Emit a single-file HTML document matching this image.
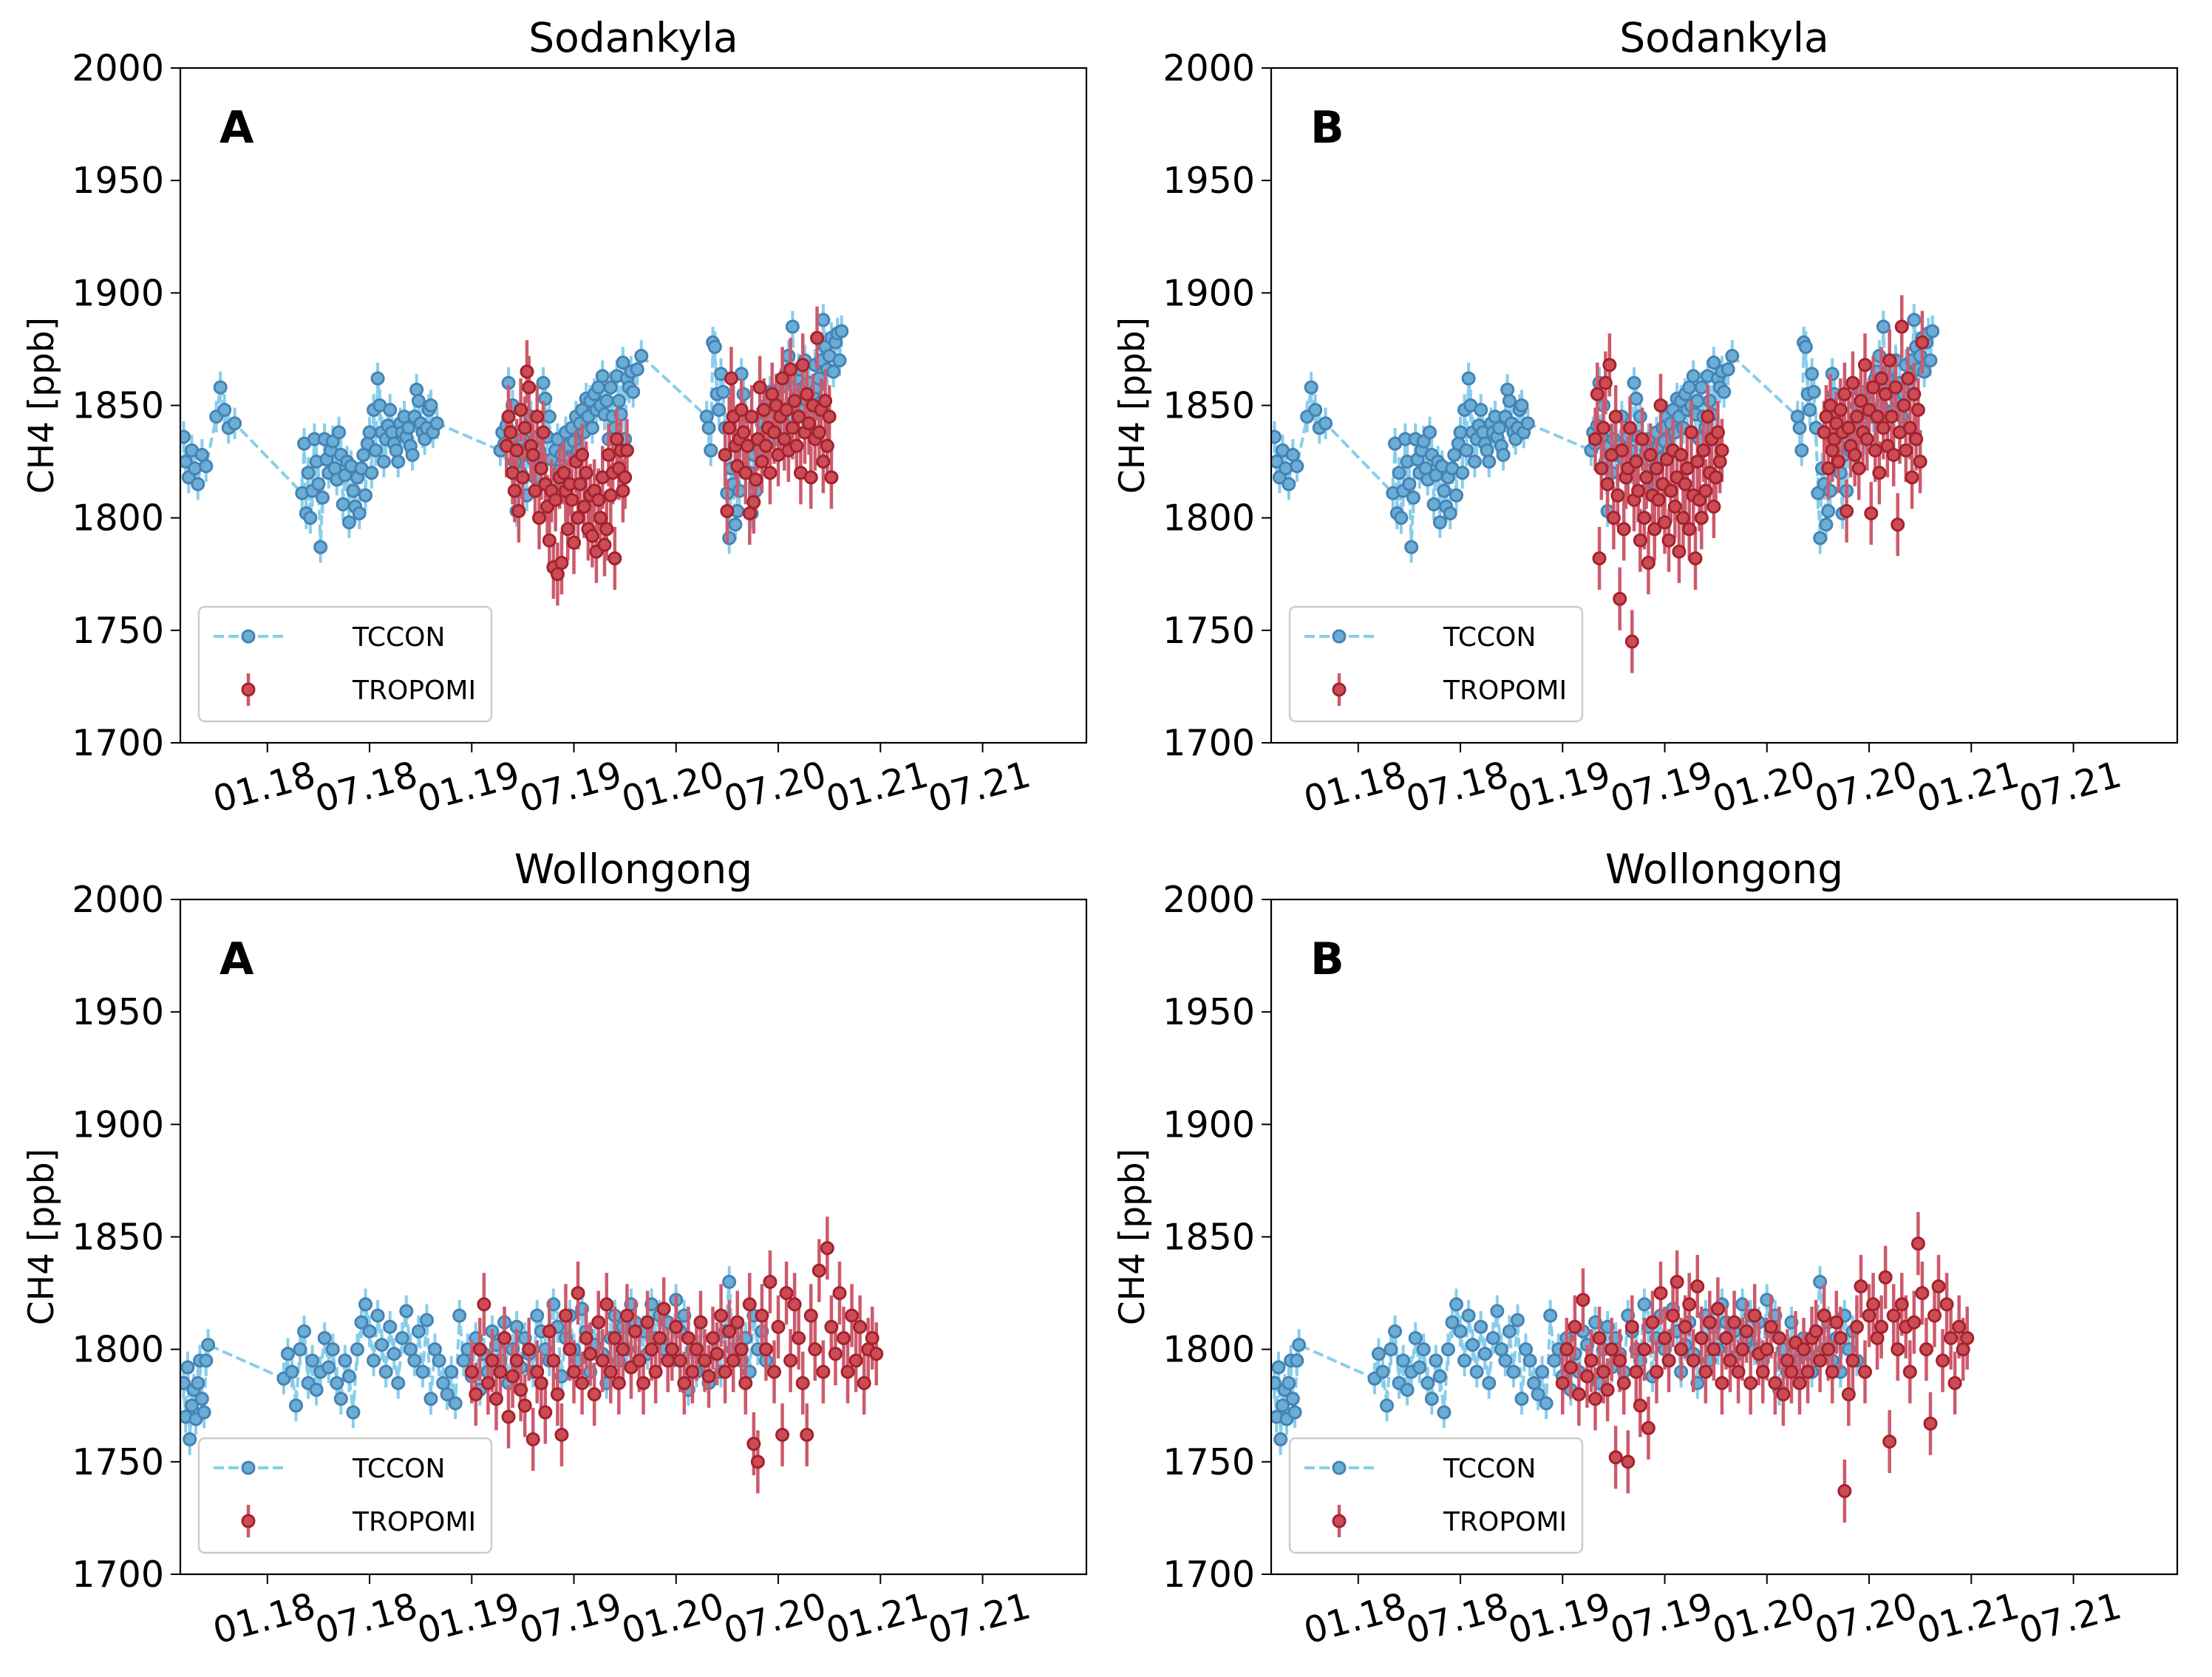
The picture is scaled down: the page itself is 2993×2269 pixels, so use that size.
<!DOCTYPE html>
<html><head><meta charset="utf-8">
<style>
html,body{margin:0;padding:0;background:#fff;}
svg{display:block;font-family:"DejaVu Sans","Liberation Sans",sans-serif;}
</style></head>
<body>
<svg id="fig" width="2993" height="2269" viewBox="0 0 2993 2269" xmlns="http://www.w3.org/2000/svg"></svg>
<script>
// ---------- data ----------
const yTicks = [1700,1750,1800,1850,1900,1950,2000];
const xTickYears = [2018.0,2018.5,2019.0,2019.5,2020.0,2020.5,2021.0,2021.5];
const xTickLabels = ["01.18","07.18","01.19","07.19","01.20","07.20","01.21","07.21"];

const sodTcconT = [2017.59,2017.60,2017.615,2017.63,2017.645,2017.66,2017.68,2017.70,
2017.75,2017.77,2017.79,2017.81,2017.84,
2018.17,2018.18,2018.19,2018.20,2018.21,2018.22,2018.23,2018.24,2018.25,2018.26,
2018.27,2018.28,2018.29,2018.30,2018.31,2018.32,2018.33,2018.34,2018.35,2018.36,
2018.37,2018.38,2018.39,2018.40,2018.41,2018.42,2018.43,2018.44,2018.45,2018.46,
2018.47,2018.48,2018.49,2018.50,2018.51,2018.52,2018.53,2018.54,2018.55,2018.56,
2018.57,2018.58,2018.59,2018.60,2018.61,2018.62,2018.63,2018.64,2018.65,2018.66,
2018.67,2018.68,2018.69,2018.70,2018.71,2018.72,2018.73,2018.74,2018.75,2018.76,
2018.77,2018.78,2018.79,2018.80,2018.81,2018.83,
2019.14,2019.15,2019.16,2019.17,2019.18,2019.19,2019.20,2019.21,2019.22,2019.23,
2019.24,2019.25,2019.26,2019.27,2019.28,2019.29,2019.30,2019.31,2019.32,2019.33,
2019.34,2019.35,2019.36,2019.37,2019.38,2019.39,2019.40,2019.41,2019.42,2019.43,
2019.44,2019.45,2019.46,2019.47,2019.48,2019.49,2019.50,2019.51,2019.52,2019.53,
2019.54,2019.55,2019.56,2019.57,2019.58,2019.59,2019.60,2019.61,2019.62,2019.63,
2019.64,2019.65,2019.66,2019.67,2019.68,2019.69,2019.70,2019.71,2019.72,2019.73,
2019.74,2019.75,2019.76,2019.77,2019.78,2019.79,2019.81,2019.83,
2020.15,2020.16,2020.17,2020.18,2020.19,2020.20,2020.21,2020.22,2020.23,2020.24,
2020.25,2020.26,2020.27,2020.28,2020.29,2020.30,2020.31,2020.32,2020.33,2020.34,
2020.35,2020.36,2020.37,2020.38,2020.39,2020.40,2020.41,2020.42,2020.43,2020.44,
2020.45,2020.46,2020.47,2020.48,2020.49,2020.50,2020.51,2020.52,2020.53,2020.54,
2020.55,2020.56,2020.57,2020.58,2020.59,2020.60,2020.61,2020.62,2020.63,2020.64,
2020.65,2020.66,2020.67,2020.68,2020.69,2020.70,2020.71,2020.72,2020.73,2020.74,
2020.75,2020.76,2020.77,2020.78,2020.79,2020.80,2020.81];
const sodTcconV = [1836,1825,1818,1830,1822,1815,1828,1823,
1845,1858,1848,1840,1842,
1811,1833,1802,1820,1800,1812,1835,1825,1815,1787,
1809,1835,1826,1820,1830,1834,1822,1817,1838,1828,
1806,1819,1825,1798,1823,1812,1805,1818,1802,1822,
1828,1810,1833,1838,1820,1848,1830,1862,1850,1838,
1825,1835,1841,1848,1838,1833,1830,1825,1842,1838,
1845,1836,1840,1832,1828,1845,1857,1852,1842,1838,
1835,1840,1848,1850,1838,1842,
1830,1838,1833,1841,1860,1836,1850,1825,1803,1832,
1820,1835,1828,1810,1832,1845,1826,1818,1836,1830,
1822,1860,1853,1836,1845,1826,1812,1830,1835,1821,
1828,1815,1838,1832,1826,1840,1834,1845,1830,1842,
1848,1838,1853,1845,1852,1840,1855,1848,1858,1850,
1863,1846,1852,1835,1858,1845,1840,1863,1852,1846,
1869,1835,1862,1858,1865,1856,1866,1872,
1845,1840,1830,1878,1876,1855,1848,1864,1856,1840,
1811,1791,1822,1815,1797,1803,1812,1864,1855,1845,
1832,1820,1802,1828,1812,1835,1830,1842,1838,1850,
1845,1856,1840,1835,1852,1848,1858,1845,1862,1865,
1872,1850,1885,1858,1862,1866,1855,1848,1870,1852,
1860,1845,1855,1868,1858,1862,1870,1888,1876,1866,
1872,1880,1865,1878,1882,1870,1883];

const sodTropoAT = [2019.17,2019.18,2019.19,2019.20,2019.21,2019.22,2019.23,2019.24,2019.25,2019.26,
2019.27,2019.28,2019.29,2019.30,2019.31,2019.32,2019.33,2019.34,2019.35,2019.36,
2019.37,2019.38,2019.39,2019.40,2019.41,2019.42,2019.43,2019.44,2019.45,2019.46,
2019.47,2019.48,2019.49,2019.50,2019.51,2019.52,2019.53,2019.54,2019.55,2019.56,
2019.57,2019.58,2019.59,2019.60,2019.61,2019.62,2019.63,2019.64,2019.65,2019.66,
2019.67,2019.68,2019.69,2019.70,2019.71,2019.72,2019.73,2019.74,2019.75,2019.76,
2020.24,2020.25,2020.26,2020.27,2020.28,2020.29,2020.30,2020.31,2020.32,2020.33,
2020.34,2020.35,2020.36,2020.37,2020.38,2020.39,2020.40,2020.41,2020.42,2020.43,
2020.44,2020.45,2020.46,2020.47,2020.48,2020.49,2020.50,2020.51,2020.52,2020.53,
2020.54,2020.55,2020.56,2020.57,2020.58,2020.59,2020.60,2020.61,2020.62,2020.63,
2020.64,2020.65,2020.66,2020.67,2020.68,2020.69,2020.70,2020.71,2020.72,2020.73,
2020.74,2020.75,2020.76];
const sodTropoAV = [1832,1845,1838,1820,1812,1830,1803,1848,1818,1840,
1865,1858,1832,1828,1812,1845,1800,1822,1838,1815,
1805,1790,1812,1778,1808,1775,1818,1780,1820,1812,
1795,1815,1808,1789,1825,1800,1815,1828,1805,1820,
1795,1810,1792,1812,1785,1808,1800,1818,1788,1795,
1828,1810,1820,1782,1835,1822,1830,1812,1818,1830,
1828,1803,1840,1862,1845,1832,1823,1835,1848,1838,
1820,1832,1802,1845,1807,1817,1835,1858,1825,1848,
1832,1840,1820,1855,1838,1850,1828,1845,1862,1835,
1848,1830,1866,1840,1852,1832,1845,1820,1868,1838,
1855,1842,1818,1850,1835,1880,1838,1848,1825,1852,
1832,1845,1818];

const sodTropoBT = [2019.16,2019.17,2019.18,2019.19,2019.20,2019.21,2019.22,2019.23,2019.24,2019.25,
2019.26,2019.27,2019.28,2019.29,2019.30,2019.31,2019.32,2019.33,2019.34,2019.35,
2019.36,2019.37,2019.38,2019.39,2019.40,2019.41,2019.42,2019.43,2019.44,2019.45,
2019.46,2019.47,2019.48,2019.49,2019.50,2019.51,2019.52,2019.53,2019.54,2019.55,
2019.56,2019.57,2019.58,2019.59,2019.60,2019.61,2019.62,2019.63,2019.64,2019.65,
2019.66,2019.67,2019.68,2019.69,2019.70,2019.71,2019.72,2019.73,2019.74,2019.75,
2019.76,2019.77,2019.78,
2020.28,2020.29,2020.30,2020.31,2020.32,2020.33,2020.34,2020.35,2020.36,2020.37,
2020.38,2020.39,2020.40,2020.41,2020.42,2020.43,2020.44,2020.45,2020.46,2020.47,
2020.48,2020.49,2020.50,2020.51,2020.52,2020.53,2020.54,2020.55,2020.56,2020.57,
2020.58,2020.59,2020.60,2020.61,2020.62,2020.63,2020.64,2020.65,2020.66,2020.67,
2020.68,2020.69,2020.70,2020.71,2020.72,2020.73,2020.74,2020.75,2020.76];
const sodTropoBV = [1835,1855,1782,1822,1840,1860,1815,1868,1828,1800,
1845,1810,1764,1830,1795,1818,1822,1840,1745,1808,
1825,1812,1790,1835,1800,1818,1780,1828,1810,1795,
1822,1808,1850,1815,1798,1826,1790,1812,1830,1805,
1818,1785,1828,1800,1815,1822,1795,1838,1810,1782,
1825,1808,1800,1830,1812,1845,1820,1835,1805,1818,
1838,1825,1830,
1838,1845,1822,1850,1830,1835,1842,1825,1848,1838,
1855,1803,1840,1832,1860,1828,1845,1822,1852,1838,
1868,1835,1848,1802,1858,1830,1845,1820,1862,1840,
1855,1832,1870,1845,1828,1858,1797,1838,1885,1850,
1830,1862,1840,1818,1855,1835,1848,1825,1878];

const wolTcconT = [2017.59,2017.60,2017.61,2017.62,2017.63,2017.64,2017.65,2017.66,2017.67,2017.68,2017.69,2017.70,2017.71,
2018.08,2018.10,2018.12,2018.14,2018.16,2018.18,2018.20,2018.22,2018.24,2018.26,
2018.28,2018.30,2018.32,2018.34,2018.36,2018.38,2018.40,2018.42,2018.44,2018.46,
2018.48,2018.50,2018.52,2018.54,2018.56,2018.58,2018.60,2018.62,2018.64,2018.66,
2018.68,2018.70,2018.72,2018.74,2018.76,2018.78,2018.80,2018.82,2018.84,2018.86,
2018.88,2018.90,2018.92,2018.94,2018.96,2018.98,2019.00,2019.02,2019.04,2019.06,
2019.08,2019.10,2019.12,2019.14,2019.16,2019.18,2019.20,2019.22,2019.24,2019.26,
2019.28,2019.30,2019.32,2019.34,2019.36,2019.38,2019.40,2019.42,2019.44,2019.46,
2019.48,2019.50,2019.52,2019.54,2019.56,2019.58,2019.60,2019.62,2019.64,2019.66,
2019.68,2019.70,2019.72,2019.74,2019.76,2019.78,2019.80,2019.82,2019.84,2019.86,
2019.88,2019.90,2019.92,2019.94,2019.96,2019.98,2020.00,2020.02,2020.04,2020.06,
2020.08,2020.10,2020.12,2020.14,2020.16,2020.18,2020.20,2020.22,2020.24,2020.26,
2020.28,2020.30,2020.32,2020.34,2020.36,2020.38,2020.40,2020.42,2020.44];
const wolTcconV = [1785,1770,1792,1760,1775,1782,1769,1785,1795,1778,1772,1795,1802,
1787,1798,1790,1775,1800,1808,1785,1795,1782,1790,
1805,1792,1800,1785,1778,1795,1788,1772,1800,1812,
1820,1808,1795,1815,1802,1790,1810,1798,1785,1805,
1817,1800,1795,1808,1790,1813,1778,1800,1795,1785,
1780,1790,1776,1815,1795,1800,1788,1805,1782,1798,
1790,1808,1802,1795,1812,1785,1800,1810,1792,1805,
1798,1790,1815,1808,1800,1795,1820,1810,1788,1805,
1815,1800,1795,1818,1808,1790,1802,1812,1798,1785,
1805,1815,1795,1810,1800,1820,1812,1795,1808,1798,
1820,1805,1815,1800,1812,1795,1822,1808,1815,1782,
1800,1790,1812,1795,1785,1805,1798,1790,1808,1830,
1800,1812,1795,1805,1790,1815,1800,1808,1795];

const wolTropoT = [2019.00,2019.02,2019.04,2019.06,2019.08,2019.10,2019.12,2019.14,2019.16,2019.18,
2019.20,2019.22,2019.24,2019.26,2019.28,2019.30,2019.32,2019.34,2019.36,2019.38,
2019.40,2019.42,2019.44,2019.46,2019.48,2019.50,2019.52,2019.54,2019.56,2019.58,
2019.60,2019.62,2019.64,2019.66,2019.68,2019.70,2019.72,2019.74,2019.76,2019.78,
2019.80,2019.82,2019.84,2019.86,2019.88,2019.90,2019.92,2019.94,2019.96,2019.98,
2020.00,2020.02,2020.04,2020.06,2020.08,2020.10,2020.12,2020.14,2020.16,2020.18,
2020.20,2020.22,2020.24,2020.26,2020.28,2020.30,2020.32,2020.34,2020.36,2020.38,
2020.40,2020.42,2020.44,2020.46,2020.48,2020.50,2020.52,2020.54,2020.56,2020.58,
2020.60,2020.62,2020.64,2020.66,2020.68,2020.70,2020.72,2020.74,2020.76,2020.78,
2020.80,2020.82,2020.84,2020.86,2020.88,2020.90,2020.92,2020.94,2020.96,2020.98];
const wolTropoAV = [1790,1780,1800,1820,1785,1795,1778,1790,1805,1770,
1788,1795,1782,1775,1800,1760,1790,1785,1772,1808,
1795,1780,1762,1815,1800,1790,1825,1785,1805,1798,
1780,1812,1795,1820,1790,1805,1785,1800,1815,1792,
1808,1795,1785,1812,1800,1790,1805,1818,1795,1800,
1810,1795,1785,1805,1790,1800,1812,1795,1788,1805,
1798,1815,1790,1808,1795,1812,1800,1785,1820,1758,
1750,1815,1800,1830,1790,1810,1762,1825,1795,1820,
1805,1785,1762,1815,1800,1835,1790,1845,1810,1798,
1825,1805,1790,1815,1795,1810,1785,1800,1805,1798];
const wolTropoBV = [1785,1800,1792,1810,1780,1822,1788,1795,1778,1805,
1790,1782,1800,1752,1795,1785,1750,1810,1790,1775,
1800,1765,1812,1790,1825,1805,1795,1815,1830,1800,
1810,1820,1795,1828,1805,1790,1812,1800,1818,1785,
1805,1795,1812,1790,1800,1808,1785,1815,1798,1790,
1800,1810,1785,1805,1780,1795,1790,1803,1785,1800,
1790,1805,1808,1795,1815,1800,1790,1812,1805,1737,
1780,1795,1810,1828,1790,1815,1820,1805,1810,1832,
1759,1815,1800,1820,1810,1790,1812,1847,1825,1800,
1767,1815,1828,1795,1820,1805,1785,1810,1800,1805];

const tcconErr = 7;
const tropoErr = 14;

// ---------- layout ----------
const NS = "http://www.w3.org/2000/svg";
const svg = document.getElementById('fig');
const W = 1226, H = 913;
const X0 = 2017.574, X1 = 2022.008, Y0 = 1700, Y1 = 2000;

function mk(tag, attrs, parent, text){
  const e = document.createElementNS(NS, tag);
  for (const k in attrs) e.setAttribute(k, attrs[k]);
  if (text !== undefined) e.textContent = text;
  (parent || svg).appendChild(e);
  return e;
}

const panels = [
  {px:244, py:92, title:"Sodankyla", letter:"A", tt:sodTcconT, tv:sodTcconV, rt:sodTropoAT, rv:sodTropoAV, id:"sodankyla-a"},
  {px:1720, py:92, title:"Sodankyla", letter:"B", tt:sodTcconT, tv:sodTcconV, rt:sodTropoBT, rv:sodTropoBV, id:"sodankyla-b"},
  {px:244, py:1217, title:"Wollongong", letter:"A", tt:wolTcconT, tv:wolTcconV, rt:wolTropoT, rv:wolTropoAV, id:"wollongong-a"},
  {px:1720, py:1217, title:"Wollongong", letter:"B", tt:wolTcconT, tv:wolTcconV, rt:wolTropoT, rv:wolTropoBV, id:"wollongong-b"}
];

panels.forEach(p => {
  const xs = t => p.px + (t - X0) / (X1 - X0) * W;
  const ys = v => p.py + H - (v - Y0) / (Y1 - Y0) * H;
  const g = mk('g', {});
  
  

  const clipId = 'clip-' + p.id;
  const cp = mk('clipPath', {id: clipId}, g);
  mk('rect', {x:p.px, y:p.py, width:W, height:H}, cp);

  const title = mk('text', {x:p.px + W/2, y:p.py - 22, 'text-anchor':'middle', 'font-size':55, fill:'#000'}, g, p.title);
  
  

  const yl = mk('text', {x:0, y:0, 'text-anchor':'middle', 'font-size':47, fill:'#000',
    transform:`translate(${p.px - 172},${p.py + H/2}) rotate(-90)`}, g, 'CH4 [ppb]');
  
  

  yTicks.forEach(v => {
    const y = ys(v);
    const tk = mk('line', {x1:p.px - 13, x2:p.px, y1:y, y2:y, stroke:'#000', 'stroke-width':2}, g);
    
    
    const tl = mk('text', {x:p.px - 22, y:y + 17, 'text-anchor':'end', 'font-size':49, fill:'#000'}, g, String(v));
    
    
  });
  xTickYears.forEach((t, i) => {
    const x = xs(t);
    const tk = mk('line', {x1:x, x2:x, y1:p.py + H, y2:p.py + H + 13, stroke:'#000', 'stroke-width':2}, g);
    
    
    const tl = mk('text', {x:0, y:0, 'text-anchor':'middle', 'font-size':49, fill:'#000',
      transform:`translate(${x},${p.py + H + 76}) rotate(-15)`}, g, xTickLabels[i]);
    
    
  });

  const plot = mk('g', {'clip-path':`url(#${clipId})`}, g);
  
  

  const tcG = mk('g', {}, plot);
  
  
  p.tt.forEach((t, i) => {
    const x = xs(t);
    const eb = mk('line', {x1:x, x2:x, y1:ys(p.tv[i] - tcconErr), y2:ys(p.tv[i] + tcconErr), stroke:'#87ceeb', 'stroke-width':4}, tcG);
    
    
  });
  const pts = p.tt.map((t, i) => xs(t).toFixed(1) + ',' + ys(p.tv[i]).toFixed(1)).join(' ');
  const ln = mk('polyline', {points:pts, fill:'none', stroke:'#87ceeb', 'stroke-width':4, 'stroke-dasharray':'14,6'}, tcG);
  
  
  p.tt.forEach((t, i) => {
    const c = mk('circle', {cx:xs(t), cy:ys(p.tv[i]), r:8, fill:'#6aaed6', stroke:'#4682b4', 'stroke-width':3}, tcG);
    
    
  });

  const trG = mk('g', {}, plot);
  
  
  p.rt.forEach((t, i) => {
    const x = xs(t);
    const eb = mk('line', {x1:x, x2:x, y1:ys(p.rv[i] - tropoErr), y2:ys(p.rv[i] + tropoErr), stroke:'#cd5a6c', 'stroke-width':4.5}, trG);
    
    
  });
  p.rt.forEach((t, i) => {
    const c = mk('circle', {cx:xs(t), cy:ys(p.rv[i]), r:8, fill:'#cc4c55', stroke:'#a3222d', 'stroke-width':3}, trG);
    
    
  });

  const fr = mk('rect', {x:p.px, y:p.py, width:W, height:H, fill:'none', stroke:'#000', 'stroke-width':2.2}, g);
  
  

  const lt = mk('text', {x:p.px + 53, y:p.py + 101, 'font-size':60, 'font-weight':'bold', fill:'#000'}, g, p.letter);
  
  

  const lg = mk('g', {}, g);
  
  
  const lx = p.px + 25, ly = p.py + 735;
  mk('rect', {x:lx, y:ly - 6, width:396, height:155, rx:8, fill:'#fff', 'fill-opacity':0.8, stroke:'#cccccc', 'stroke-width':2.5}, lg);
  const e1 = mk('g', {}, lg);
  
  
  mk('line', {x1:lx + 20, x2:lx + 115, y1:ly + 34, y2:ly + 34, stroke:'#87ceeb', 'stroke-width':4, 'stroke-dasharray':'14,6'}, e1);
  mk('circle', {cx:lx + 67, cy:ly + 34, r:8, fill:'#6aaed6', stroke:'#4682b4', 'stroke-width':3}, e1);
  mk('text', {x:lx + 208, y:ly + 47, 'font-size':36, fill:'#000'}, e1, 'TCCON');
  const e2 = mk('g', {}, lg);
  
  
  mk('line', {x1:lx + 67, x2:lx + 67, y1:ly + 84, y2:ly + 128, stroke:'#cd5a6c', 'stroke-width':4.5}, e2);
  mk('circle', {cx:lx + 67, cy:ly + 106, r:8, fill:'#cc4c55', stroke:'#a3222d', 'stroke-width':3}, e2);
  mk('text', {x:lx + 208, y:ly + 119, 'font-size':36, fill:'#000'}, e2, 'TROPOMI');
});
</script>
</body></html>
